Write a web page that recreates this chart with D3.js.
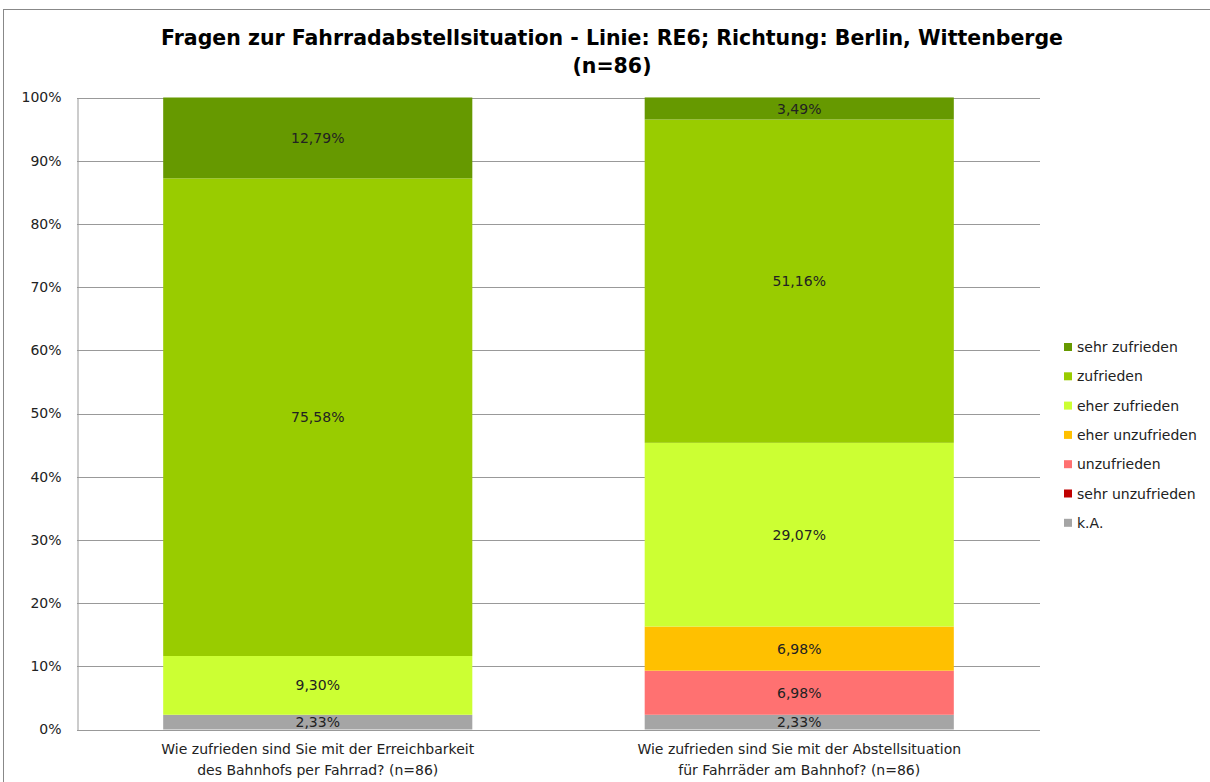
<!DOCTYPE html>
<html><head><meta charset="utf-8">
<script src="https://cdn.jsdelivr.net/npm/d3@7"></script>
<style>body{margin:0;background:#fff}svg{display:block}</style>
</head><body>
<script>
const categories = [
  ["Wie zufrieden sind Sie mit der Erreichbarkeit", "des Bahnhofs per Fahrrad? (n=86)"],
  ["Wie zufrieden sind Sie mit der Abstellsituation", "für Fahrräder am Bahnhof? (n=86)"]
];
const seriesNames = ["k.A.", "sehr unzufrieden", "unzufrieden", "eher unzufrieden", "eher zufrieden", "zufrieden", "sehr zufrieden"];
const seriesColors = ["#A5A5A5", "#C00000", "#FF7171", "#FFC000", "#CCFF33", "#99CC00", "#669900"];
const valuesCat1 = [2.33, 0, 0, 0, 9.30, 75.58, 12.79];
const valuesCat2 = [2.33, 0, 6.98, 6.98, 29.07, 51.16, 3.49];
const yTicks = [0,10,20,30,40,50,60,70,80,90,100];
const titleLines = ["Fragen zur Fahrradabstellsituation - Linie: RE6; Richtung: Berlin, Wittenberge", "(n=86)"];

const W = 1210, H = 782;
const svg = d3.select("body").append("svg").attr("width", W).attr("height", H);
const font = "DejaVu Sans, Verdana, sans-serif";
const fs = 14;

svg.append("rect").attr("x", 3.5).attr("y", 9.5).attr("width", W).attr("height", H)
  .attr("fill", "none").attr("stroke", "#888").attr("stroke-width", 1);

const m = {left: 77, right: 1040, top: 97.5, bottom: 729.5};
const x = d3.scaleBand().domain([0,1]).range([m.left, m.right]).paddingInner(0.358).paddingOuter(0.179);
const y = d3.scaleLinear().domain([0,100]).range([m.bottom, m.top]);

// gridlines
svg.append("g").selectAll("line").data(yTicks).join("line")
  .attr("x1", m.left).attr("x2", m.right)
  .attr("y1", d => Math.round(y(d)) + 0.5).attr("y2", d => Math.round(y(d)) + 0.5)
  .attr("stroke", "#999").attr("stroke-width", 1);

// y axis
const yAxis = d3.axisLeft(y).tickValues(yTicks).tickFormat(d => d + "%").tickSize(0).tickPadding(16);
const ga = svg.append("g").attr("transform", `translate(${m.left + 0.5},0)`).call(yAxis);
ga.select(".domain").attr("stroke", "#999");
ga.selectAll("text").attr("font-family", font).attr("font-size", fs).attr("fill", "#222");

const data = [valuesCat1, valuesCat2];
const rows = data.map(v => { const o = {}; seriesNames.forEach((s,i) => o[s] = v[i]); return o; });
const stack = d3.stack().keys(seriesNames)(rows);

const fmt = v => v.toFixed(2).replace(".", ",") + "%";

stack.forEach((layer, si) => {
  layer.forEach((d, ci) => {
    const val = d[1] - d[0];
    if (val <= 0) return;
    svg.append("rect")
      .attr("x", x(ci)).attr("width", x.bandwidth())
      .attr("y", y(d[1])).attr("height", y(d[0]) - y(d[1]))
      .attr("fill", seriesColors[si]);
    svg.append("text")
      .attr("x", x(ci) + x.bandwidth()/2).attr("y", (y(d[0]) + y(d[1]))/2)
      .attr("dy", "0.36em").attr("text-anchor", "middle")
      .attr("font-family", font).attr("font-size", fs).attr("fill", "#222")
      .text(fmt(val));
  });
});

// x labels
categories.forEach((lines, ci) => {
  lines.forEach((t, li) => {
    svg.append("text").attr("x", x(ci) + x.bandwidth()/2).attr("y", 754 + li*21)
      .attr("text-anchor", "middle").attr("font-family", font).attr("font-size", fs).attr("fill", "#222")
      .text(t);
  });
});

// title
titleLines.forEach((t, i) => {
  svg.append("text").attr("x", 612).attr("y", 45 + i*28).attr("text-anchor", "middle")
    .attr("font-family", "DejaVu Sans, sans-serif").attr("font-weight", "bold")
    .attr("font-size", 20.5).attr("fill", "#000").text(t);
});

// legend
const legendOrder = seriesNames.slice().reverse();
const legendColors = seriesColors.slice().reverse();
const lg = svg.append("g");
legendOrder.forEach((s, i) => {
  const yy = 347 + i * 29.3;
  lg.append("rect").attr("x", 1064).attr("y", yy - 4).attr("width", 8).attr("height", 8).attr("fill", legendColors[i]);
  lg.append("text").attr("x", 1077).attr("y", yy).attr("dy", "0.36em")
    .attr("font-family", font).attr("font-size", fs).attr("fill", "#222").text(s);
});
</script>
</body></html>
